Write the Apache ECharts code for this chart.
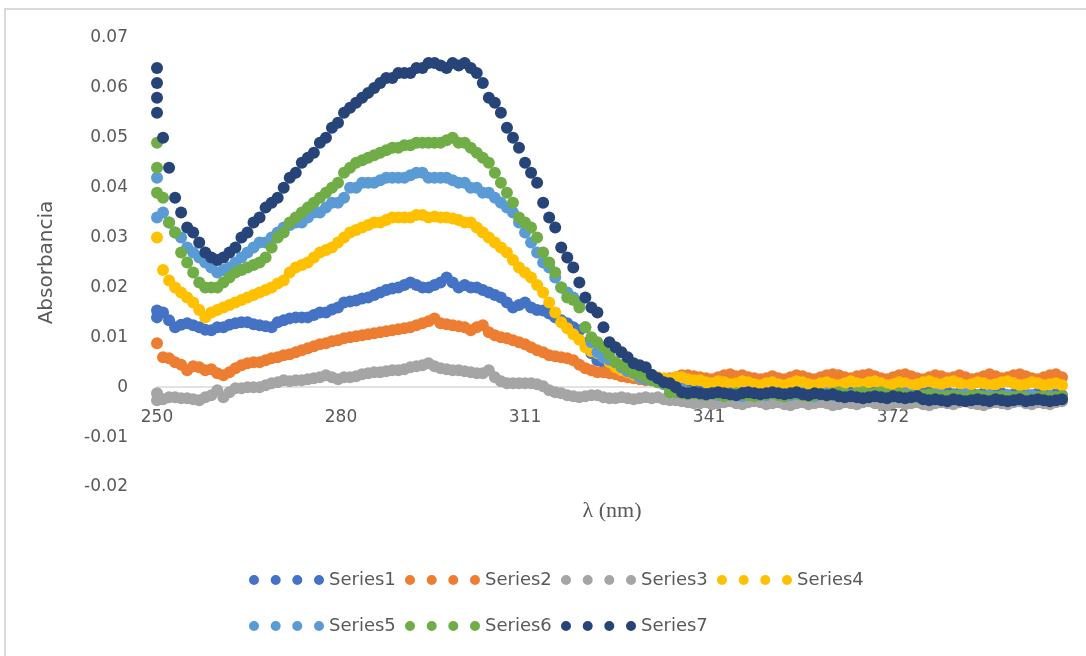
<!DOCTYPE html>
<html><head><meta charset="utf-8">
<script src="https://cdn.jsdelivr.net/npm/echarts@6/dist/echarts.min.js"></script>
<style>html,body{margin:0;padding:0;background:#fff}#c{width:1086px;height:656px}</style>
</head><body><div id="c"></div>
<script>
// Wavelength grid (nm): 250 .. 400, 1 nm step
const WL_START = 250;
const WL_STEP = 1;
const xTickLabels = ['250', '280', '311', '341', '372'];
const xAxisTitle = 'λ (nm)';
const yAxisTitle = 'Absorbancia';
const seriesNames = ['Series1','Series2','Series3','Series4','Series5','Series6','Series7'];
const seriesColors = ['#4472C4','#ED7D31','#A5A5A5','#FFC000','#5B9BD5','#70AD47','#264478'];

const s1 = [
 0.0154,0.0150,0.0134,0.0120,0.0125,0.0128,0.0124,0.0120,0.0115,0.0114,
 0.0120,0.0120,0.0125,0.0128,0.0130,0.0130,0.0126,0.0124,0.0122,0.0120,
 0.0130,0.0134,0.0138,0.0140,0.0140,0.0140,0.0145,0.0150,0.0150,0.0156,
 0.0160,0.0170,0.0172,0.0174,0.0178,0.0180,0.0185,0.0190,0.0195,0.0198,
 0.0200,0.0205,0.0210,0.0205,0.0200,0.0200,0.0205,0.0210,0.0220,0.0210,
 0.0200,0.0205,0.0200,0.0200,0.0195,0.0190,0.0185,0.0180,0.0170,0.0160,
 0.0165,0.0170,0.0160,0.0155,0.0154,0.0148,0.0140,0.0134,0.0128,0.0120,
 0.0114,0.0088,0.0068,0.0054,0.0050,0.0044,0.0040,0.0032,0.0028,0.0024,
 0.0020,0.0020,0.0016,0.0012,0.0010,0.0008,0.0004,0.0002,0.0000,-0.0002,
 -0.0004,-0.0002,-0.0006,-0.0004,-0.0008,-0.0006,-0.0004,-0.0008,-0.0010,-0.0006,
 -0.0004,-0.0008,-0.0006,-0.0010,-0.0008,-0.0004,-0.0006,-0.0010,-0.0008,-0.0006,
 -0.0008,-0.0012,-0.0010,-0.0006,-0.0008,-0.0010,-0.0012,-0.0008,-0.0006,-0.0010,
 -0.0012,-0.0010,-0.0008,-0.0012,-0.0014,-0.0010,-0.0008,-0.0012,-0.0010,-0.0014,
 -0.0012,-0.0010,-0.0014,-0.0012,-0.0008,-0.0012,-0.0016,-0.0012,-0.0010,-0.0014,
 -0.0012,-0.0016,-0.0014,-0.0010,-0.0014,-0.0016,-0.0012,-0.0014,-0.0018,-0.0014,-0.0016
];
const s2 = [
 0.0088,0.0060,0.0058,0.0050,0.0045,0.0034,0.0042,0.0040,0.0034,0.0036,
 0.0028,0.0024,0.0030,0.0038,0.0044,0.0048,0.0050,0.0050,0.0054,0.0058,
 0.0060,0.0064,0.0066,0.0070,0.0074,0.0078,0.0082,0.0086,0.0088,0.0092,
 0.0094,0.0098,0.0100,0.0102,0.0104,0.0106,0.0108,0.0110,0.0112,0.0114,
 0.0116,0.0118,0.0120,0.0124,0.0128,0.0132,0.0138,0.0128,0.0126,0.0124,
 0.0122,0.0120,0.0114,0.0120,0.0124,0.0110,0.0104,0.0100,0.0098,0.0094,
 0.0090,0.0086,0.0080,0.0074,0.0070,0.0064,0.0062,0.0060,0.0058,0.0054,
 0.0045,0.0038,0.0034,0.0030,0.0030,0.0028,0.0026,0.0022,0.0020,0.0018,
 0.0016,0.0014,0.0014,0.0014,0.0016,0.0018,0.0020,0.0024,0.0024,0.0022,
 0.0020,0.0018,0.0016,0.0020,0.0024,0.0026,0.0022,0.0024,0.0020,0.0018,
 0.0016,0.0018,0.0022,0.0018,0.0016,0.0020,0.0024,0.0022,0.0018,0.0016,
 0.0020,0.0024,0.0026,0.0024,0.0020,0.0018,0.0022,0.0024,0.0026,0.0022,
 0.0018,0.0016,0.0020,0.0024,0.0026,0.0022,0.0018,0.0016,0.0020,0.0024,
 0.0022,0.0018,0.0020,0.0024,0.0020,0.0016,0.0018,0.0022,0.0026,0.0022,
 0.0018,0.0020,0.0024,0.0026,0.0022,0.0018,0.0016,0.0020,0.0024,0.0026,0.0020
];
const s3 = [
 -0.0012,-0.0024,-0.0020,-0.0020,-0.0022,-0.0022,-0.0024,-0.0026,-0.0020,-0.0016,
 -0.0006,-0.0020,-0.0010,-0.0002,-0.0002,0.0000,0.0000,0.0000,0.0004,0.0008,
 0.0010,0.0014,0.0012,0.0014,0.0014,0.0016,0.0018,0.0020,0.0024,0.0020,
 0.0016,0.0020,0.0020,0.0022,0.0026,0.0028,0.0030,0.0030,0.0032,0.0034,
 0.0034,0.0036,0.0040,0.0042,0.0044,0.0048,0.0042,0.0038,0.0036,0.0034,
 0.0034,0.0032,0.0030,0.0028,0.0028,0.0034,0.0020,0.0012,0.0008,0.0008,
 0.0008,0.0008,0.0008,0.0006,0.0002,-0.0006,-0.0010,-0.0012,-0.0016,-0.0018,
 -0.0020,-0.0018,-0.0016,-0.0016,-0.0020,-0.0022,-0.0022,-0.0020,-0.0022,-0.0024,
 -0.0022,-0.0020,-0.0022,-0.0020,-0.0024,-0.0026,-0.0026,-0.0028,-0.0030,-0.0032,
 -0.0032,-0.0030,-0.0034,-0.0032,-0.0030,-0.0028,-0.0032,-0.0034,-0.0030,-0.0028,
 -0.0030,-0.0034,-0.0032,-0.0030,-0.0034,-0.0036,-0.0032,-0.0030,-0.0034,-0.0032,
 -0.0030,-0.0032,-0.0036,-0.0034,-0.0030,-0.0032,-0.0034,-0.0030,-0.0028,-0.0032,
 -0.0034,-0.0036,-0.0032,-0.0030,-0.0034,-0.0032,-0.0030,-0.0034,-0.0036,-0.0032,
 -0.0030,-0.0032,-0.0034,-0.0030,-0.0028,-0.0032,-0.0034,-0.0036,-0.0032,-0.0030,
 -0.0032,-0.0034,-0.0030,-0.0028,-0.0032,-0.0034,-0.0030,-0.0032,-0.0034,-0.0030,-0.0028
];
const s4 = [
 0.0300,0.0235,0.0214,0.0200,0.0190,0.0180,0.0170,0.0155,0.0140,0.0150,
 0.0155,0.0160,0.0165,0.0170,0.0175,0.0180,0.0185,0.0190,0.0195,0.0200,
 0.0208,0.0214,0.0230,0.0240,0.0245,0.0250,0.0260,0.0270,0.0275,0.0280,
 0.0290,0.0300,0.0310,0.0315,0.0320,0.0325,0.0330,0.0330,0.0335,0.0340,
 0.0340,0.0340,0.0340,0.0345,0.0345,0.0340,0.0342,0.0340,0.0340,0.0338,
 0.0335,0.0330,0.0330,0.0320,0.0310,0.0300,0.0290,0.0280,0.0270,0.0255,
 0.0240,0.0230,0.0220,0.0205,0.0190,0.0170,0.0150,0.0130,0.0118,0.0106,
 0.0095,0.0080,0.0072,0.0068,0.0060,0.0050,0.0040,0.0034,0.0030,0.0025,
 0.0020,0.0020,0.0018,0.0020,0.0018,0.0016,0.0020,0.0020,0.0016,0.0014,
 0.0014,0.0010,0.0008,0.0012,0.0010,0.0006,0.0008,0.0012,0.0010,0.0006,
 0.0004,0.0008,0.0010,0.0006,0.0004,0.0008,0.0012,0.0010,0.0006,0.0004,
 0.0008,0.0010,0.0006,0.0004,0.0008,0.0012,0.0008,0.0006,0.0010,0.0012,
 0.0008,0.0004,0.0006,0.0010,0.0008,0.0004,0.0006,0.0010,0.0012,0.0008,
 0.0006,0.0010,0.0012,0.0008,0.0004,0.0006,0.0010,0.0008,0.0004,0.0006,
 0.0010,0.0012,0.0008,0.0004,0.0006,0.0010,0.0008,0.0004,0.0006,0.0008,0.0004
];
const s5 = [
 0.0420,0.0350,0.0330,0.0310,0.0300,0.0280,0.0270,0.0260,0.0250,0.0240,
 0.0230,0.0235,0.0240,0.0250,0.0260,0.0270,0.0280,0.0290,0.0290,0.0300,
 0.0310,0.0320,0.0325,0.0330,0.0330,0.0340,0.0350,0.0350,0.0360,0.0370,
 0.0370,0.0380,0.0400,0.0400,0.0410,0.0410,0.0410,0.0415,0.0420,0.0420,
 0.0420,0.0420,0.0425,0.0430,0.0430,0.0420,0.0420,0.0420,0.0420,0.0415,
 0.0410,0.0410,0.0400,0.0400,0.0390,0.0390,0.0380,0.0370,0.0360,0.0350,
 0.0330,0.0310,0.0290,0.0270,0.0250,0.0240,0.0220,0.0200,0.0190,0.0180,
 0.0170,0.0120,0.0090,0.0070,0.0060,0.0055,0.0050,0.0040,0.0032,0.0028,
 0.0020,0.0016,0.0014,0.0010,0.0006,0.0002,0.0000,-0.0004,-0.0010,-0.0010,
 -0.0012,-0.0014,-0.0012,-0.0016,-0.0014,-0.0012,-0.0016,-0.0018,-0.0014,-0.0012,
 -0.0014,-0.0016,-0.0012,-0.0014,-0.0018,-0.0016,-0.0014,-0.0012,-0.0016,-0.0018,
 -0.0014,-0.0012,-0.0016,-0.0018,-0.0014,-0.0016,-0.0012,-0.0014,-0.0018,-0.0016,
 -0.0014,-0.0016,-0.0018,-0.0014,-0.0012,-0.0016,-0.0018,-0.0020,-0.0016,-0.0014,
 -0.0016,-0.0018,-0.0020,-0.0016,-0.0014,-0.0018,-0.0020,-0.0018,-0.0016,-0.0020,
 -0.0018,-0.0016,-0.0020,-0.0022,-0.0018,-0.0016,-0.0020,-0.0022,-0.0018,-0.0020,-0.0022
];
const s6 = [
 0.0490,0.0380,0.0330,0.0310,0.0270,0.0250,0.0230,0.0210,0.0200,0.0200,
 0.0200,0.0210,0.0220,0.0230,0.0235,0.0240,0.0245,0.0250,0.0260,0.0280,
 0.0300,0.0310,0.0330,0.0340,0.0350,0.0360,0.0370,0.0380,0.0390,0.0400,
 0.0410,0.0430,0.0440,0.0450,0.0455,0.0460,0.0465,0.0470,0.0475,0.0480,
 0.0480,0.0485,0.0485,0.0490,0.0490,0.0490,0.0490,0.0490,0.0495,0.0500,
 0.0490,0.0490,0.0480,0.0470,0.0460,0.0450,0.0430,0.0410,0.0390,0.0370,
 0.0340,0.0330,0.0320,0.0300,0.0270,0.0250,0.0230,0.0200,0.0180,0.0175,
 0.0160,0.0120,0.0100,0.0090,0.0080,0.0065,0.0050,0.0044,0.0038,0.0030,
 0.0026,0.0020,0.0014,0.0010,0.0008,-0.0010,-0.0010,-0.0012,-0.0014,-0.0012,
 -0.0014,-0.0016,-0.0012,-0.0014,-0.0018,-0.0016,-0.0012,-0.0014,-0.0016,-0.0018,
 -0.0016,-0.0014,-0.0012,-0.0016,-0.0018,-0.0014,-0.0012,-0.0016,-0.0018,-0.0016,
 -0.0014,-0.0016,-0.0012,-0.0010,-0.0014,-0.0016,-0.0012,-0.0010,-0.0014,-0.0012,
 -0.0010,-0.0014,-0.0016,-0.0012,-0.0016,-0.0018,-0.0020,-0.0016,-0.0014,-0.0018,
 -0.0020,-0.0018,-0.0016,-0.0020,-0.0022,-0.0018,-0.0016,-0.0020,-0.0022,-0.0020,
 -0.0018,-0.0022,-0.0020,-0.0018,-0.0022,-0.0024,-0.0020,-0.0018,-0.0022,-0.0020,-0.0018
];
const s7 = [
 0.0640,0.0500,0.0440,0.0380,0.0350,0.0320,0.0310,0.0290,0.0270,0.0260,
 0.0255,0.0260,0.0270,0.0280,0.0300,0.0310,0.0330,0.0340,0.0360,0.0370,
 0.0380,0.0400,0.0420,0.0430,0.0450,0.0460,0.0470,0.0490,0.0500,0.0520,
 0.0530,0.0550,0.0560,0.0570,0.0580,0.0590,0.0600,0.0610,0.0620,0.0620,
 0.0630,0.0630,0.0630,0.0640,0.0640,0.0650,0.0650,0.0645,0.0640,0.0650,
 0.0645,0.0650,0.0640,0.0630,0.0610,0.0580,0.0570,0.0550,0.0520,0.0500,
 0.0480,0.0450,0.0430,0.0410,0.0370,0.0340,0.0320,0.0280,0.0260,0.0240,
 0.0210,0.0180,0.0160,0.0150,0.0120,0.0090,0.0080,0.0070,0.0060,0.0048,
 0.0044,0.0040,0.0025,0.0018,0.0010,0.0008,0.0000,-0.0010,-0.0012,-0.0010,
 -0.0012,-0.0014,-0.0012,-0.0010,-0.0012,-0.0014,-0.0016,-0.0012,-0.0010,-0.0012,
 -0.0014,-0.0012,-0.0010,-0.0012,-0.0014,-0.0012,-0.0010,-0.0014,-0.0016,-0.0012,
 -0.0014,-0.0016,-0.0014,-0.0018,-0.0020,-0.0018,-0.0020,-0.0022,-0.0020,-0.0018,
 -0.0020,-0.0022,-0.0018,-0.0020,-0.0022,-0.0020,-0.0018,-0.0024,-0.0026,-0.0024,
 -0.0026,-0.0028,-0.0024,-0.0026,-0.0028,-0.0026,-0.0024,-0.0026,-0.0028,-0.0024,
 -0.0026,-0.0028,-0.0026,-0.0024,-0.0028,-0.0026,-0.0024,-0.0026,-0.0028,-0.0026,-0.0024
];
// extra readings recorded at the first wavelength (stacked dots at 250 nm)
const extraAtStart = [
 [0.0140], [], [-0.0026], [], [0.0340], [0.0440, 0.0390], [0.0610, 0.0580, 0.0550]
];
const allSeries = [s1, s2, s3, s4, s5, s6, s7];

const DOTS = 'path://M0,5A5,5 0 1,1 10,5A5,5 0 1,1 0,5Z M21.7,5A5,5 0 1,1 31.7,5A5,5 0 1,1 21.7,5Z M43.3,5A5,5 0 1,1 53.3,5A5,5 0 1,1 43.3,5Z M65,5A5,5 0 1,1 75,5A5,5 0 1,1 65,5Z';
const FONT = 'DejaVu Sans';
const GREY = '#595959';

const Y_MIN = -0.02, Y_MAX = 0.07;
const GRID_TOP = 38, GRID_BOTTOM = 169, CHART_H = 656;
// the category (x) axis crosses the value axis at 0, labels sit right under it
const plotH = CHART_H - GRID_TOP - GRID_BOTTOM;
const zeroOffset = -plotH * (0 - Y_MIN) / (Y_MAX - Y_MIN);

const series = allSeries.map((vals, k) => {
  const data = vals.map((v, i) => [WL_START + i * WL_STEP, v]);
  extraAtStart[k].forEach(v => data.push([WL_START, v]));
  return {
    type: 'scatter', name: seriesNames[k], data,
    symbol: 'circle', symbolSize: 12,
    itemStyle: { color: seriesColors[k], opacity: 1 },
    emphasis: { disabled: true }, animation: false
  };
});

const legendBase = {
  left: 244, orient: 'horizontal', icon: DOTS, itemWidth: 75, itemHeight: 10,
  itemGap: 5, itemTextGap: 5, selectedMode: false,
  textStyle: { fontFamily: FONT, fontSize: 18, color: GREY, width: 71, lineHeight: 22 }
};

const chart = echarts.init(document.getElementById('c'), null, { renderer: 'canvas' });
chart.setOption({
  backgroundColor: '#ffffff',
  animation: false,
  textStyle: { fontFamily: FONT },
  graphic: [{
    type: 'rect', silent: true, z: -10,
    shape: { x: 5, y: 9, width: 1200, height: 800 },
    style: { fill: 'none', stroke: '#D9D9D9', lineWidth: 2 }
  }, {
    type: 'text', silent: true, x: 612, y: 511,
    style: { text: xAxisTitle, fontFamily: 'Liberation Serif', fontSize: 22, fill: GREY,
             align: 'center', verticalAlign: 'middle' }
  }],
  grid: { left: 157, right: 24, top: GRID_TOP, bottom: GRID_BOTTOM, containLabel: false },
  xAxis: {
    type: 'value', min: 250, max: 400, interval: 30.5,
    offset: zeroOffset, z: 0,
    axisLine: { show: true, onZero: false, lineStyle: { color: '#D9D9D9', width: 1.5 } },
    axisTick: { show: false },
    splitLine: { show: false },
    axisLabel: {
      margin: 22, fontSize: 17, color: GREY, fontFamily: FONT,
      formatter: v => { const i = Math.round((v - 250) / 30.5); return (Math.abs(v - (250 + i * 30.5)) < 1e-6 && i < xTickLabels.length) ? xTickLabels[i] : ''; }
    }
  },
  yAxis: {
    type: 'value', min: Y_MIN, max: Y_MAX, interval: 0.01,
    name: yAxisTitle, nameLocation: 'middle', nameGap: 100, nameRotate: 90,
    nameTextStyle: { fontFamily: FONT, fontSize: 20, color: GREY },
    axisLine: { show: false }, axisTick: { show: false }, splitLine: { show: false },
    axisLabel: {
      margin: 29, fontSize: 17, color: GREY, fontFamily: FONT,
      formatter: v => Math.abs(v) < 1e-9 ? '0' : v.toFixed(2)
    }
  },
  legend: [
    Object.assign({}, legendBase, { top: 564, data: seriesNames.slice(0, 4) }),
    Object.assign({}, legendBase, { top: 610, data: seriesNames.slice(4) })
  ],
  series
});
</script></body></html>
